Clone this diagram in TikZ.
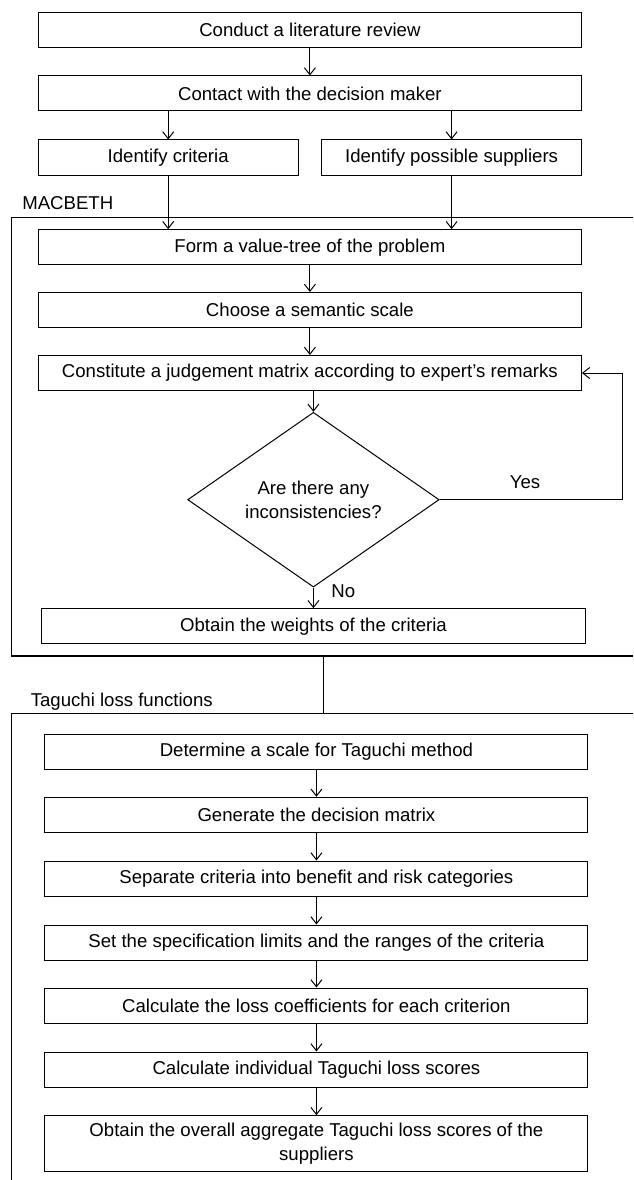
\documentclass[tikz,border=0pt]{standalone}
\usepackage{fontspec}
\setmainfont{Liberation Sans}
\usetikzlibrary{shapes.geometric,arrows.meta}

\begin{document}
\begin{tikzpicture}[x=1pt, y=-1pt, line width=1pt,
                    font=\fontsize{18.6pt}{24.6pt}\selectfont,
                    stage/.style={draw, minimum width=543pt, minimum height=35pt, inner sep=0pt},
                    half/.style={draw, minimum width=260pt, minimum height=35pt, inner sep=0pt},
                    tag/.style={inner sep=0pt},
                    flow/.style={-{Straight Barb[length=7pt,width=11pt]}},
                    frame/.style={line width=1.2pt}]
                    \useasboundingbox (0,0) rectangle (633,1180);
                    % start
                    \node[stage] (lit) at (309.9,30) {Conduct a literature review};
                    \node[stage] (dm) at (309.9,93.5) {Contact with the decision maker};
                    \node[half] (crit) at (168.2,157.5) {Identify criteria};
                    \node[half] (supp) at (451.6,157.5) {Identify possible suppliers};
                    % MACBETH
                    \draw[frame] (633,217.7) -| (11.3,656) -- (633,656);
                    \node[tag, anchor=west] (mac) at (21.8,203) {MACBETH};
                    \node[stage] (tree) at (309.9,247.2) {Form a value-tree of the problem};
                    \node[stage] (sem) at (309.9,310) {Choose a semantic scale};
                    \node[stage] (judge) at (309.9,373) {Constitute a judgement matrix according to expert's remarks};
                    \node[draw, diamond, minimum width=251.5pt, minimum height=160.7pt, inner sep=0pt, align=center] (incons) at (313.4,499.7) {Are there any\\inconsistencies?};
                    \node[stage, minimum width=544pt] (weights) at (313.5,626.2) {Obtain the weights of the criteria};
                    \node[tag] (yes) at (525,481.7) {Yes};
                    \node[tag] (no) at (343.3,591) {No};
                    \coordinate (turn) at (622,499.7);
                    % Taguchi
                    \coordinate (macbot) at (323,656);
                    \coordinate (tagtop) at (323,713.3);
                    \draw[frame] (633,713.3) -| (11.3,1180);
                    \node[tag, anchor=west] (tagl) at (30.3,701.7) {Taguchi loss functions};
                    \node[stage] (det) at (316.4,751.5) {Determine a scale for Taguchi method};
                    \node[stage] (gen) at (316.4,814.8) {Generate the decision matrix};
                    \node[stage] (sep) at (316.4,878.5) {Separate criteria into benefit and risk categories};
                    \node[stage] (lim) at (316.4,942.5) {Set the specification limits and the ranges of the criteria};
                    \node[stage] (coef) at (316.4,1005.5) {Calculate the loss coefficients for each criterion};
                    \node[stage] (indiv) at (316.4,1069.5) {Calculate individual Taguchi loss scores};
                    \node[stage, minimum height=56pt, align=center] (total) at (316.4,1143.7) {Obtain the overall aggregate Taguchi loss scores of the\\suppliers};
                    % arrows
                    \draw[flow] (lit) -- (dm);
                    \draw[flow] (crit.north |- dm.south) -- (crit.north);
                    \draw[flow] (supp.north |- dm.south) -- (supp.north);
                    \draw[flow] (crit.south) -- (crit.south |- tree.north);
                    \draw[flow] (supp.south) -- (supp.south |- tree.north);
                    \draw[flow] (tree) -- (sem);
                    \draw[flow] (sem) -- (judge);
                    \draw[flow] (incons.north |- judge.south) -- (incons.north);
                    \draw[flow] (incons.south) -- (incons.south |- weights.north);
                    \draw[flow] (incons.east) -- (turn) |- (judge.east);
                    \draw (macbot) -- (tagtop);
                    \draw[flow] (det) -- (gen);
                    \draw[flow] (gen) -- (sep);
                    \draw[flow] (sep) -- (lim);
                    \draw[flow] (lim) -- (coef);
                    \draw[flow] (coef) -- (indiv);
                    \draw[flow] (indiv) -- (total);
                \end{tikzpicture}
\end{document}
